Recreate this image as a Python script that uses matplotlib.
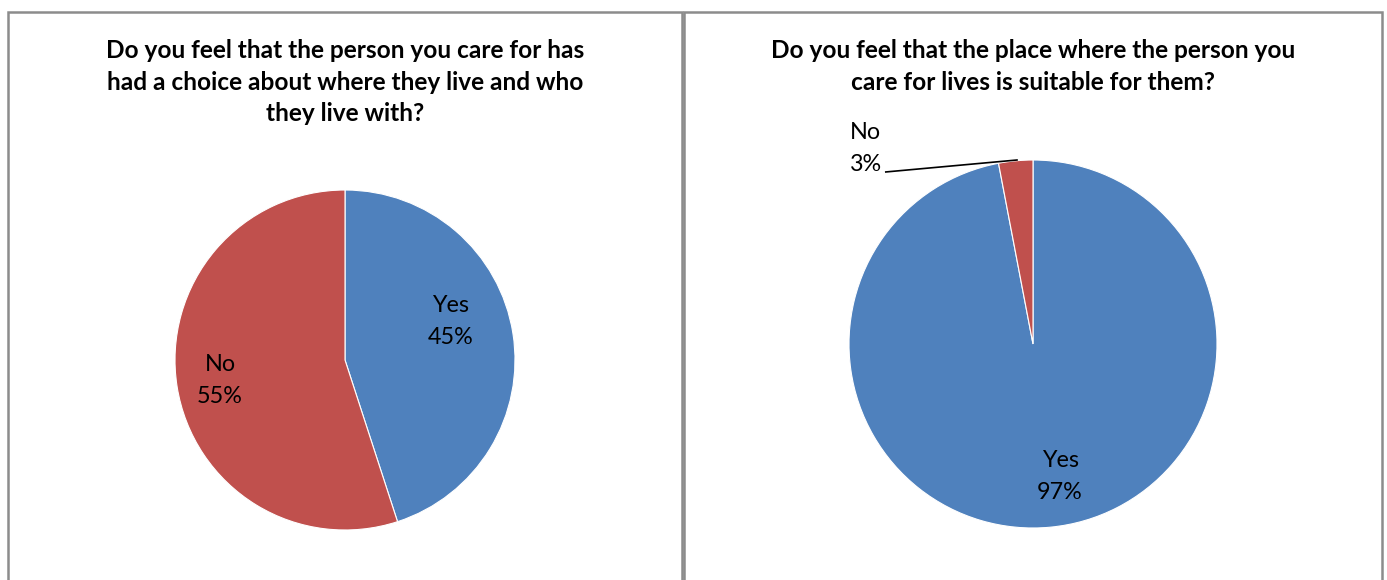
import matplotlib
matplotlib.use("Agg")
import matplotlib.pyplot as plt
from matplotlib.patches import Rectangle

# data
left_title = "Do you feel that the person you care for has\nhad a choice about where they live and who\nthey live with?"
right_title = "Do you feel that the place where the person you\ncare for lives is suitable for them?"
categories = ["Yes", "No"]
left_values = [45, 55]
right_values = [97, 3]
colors = ["#4F81BD", "#C0504D"]

W, H = 1387, 580
fig = plt.figure(figsize=(W / 100, H / 100), dpi=100)
fig.patch.set_facecolor("white")

FONT = ["Lato", "DejaVu Sans"]


def fbox(x0, y0, x1, y1):
    # pixel box (top-left origin) -> figure fraction rect
    return [x0 / W, 1 - y1 / H, (x1 - x0) / W, (y1 - y0) / H]


# panel borders
for x0, x1 in [(8, 682), (684, 1382)]:
    fig.patches.append(Rectangle((x0 / W, -0.05), (x1 - x0) / W, 1.05 - 12 / H,
                                 transform=fig.transFigure, fill=False,
                                 edgecolor="#8c8c8c", linewidth=1.8))


def draw_pie(box, values, labels_pos, title, title_y, cx):
    ax = fig.add_axes(fbox(*box))
    ax.pie(values, colors=colors, startangle=90, counterclock=False,
           radius=1, wedgeprops=dict(edgecolor="white", linewidth=0.8))
    ax.set_xlim(-1, 1)
    ax.set_ylim(-1, 1)
    ax.set_aspect("auto")
    ax.axis("off")
    for lab, val, (x, y) in zip(categories, values, labels_pos):
        ax.text(x, y, f"{lab}\n{val}%", ha="center", va="center",
                fontsize=16.8, family=FONT, linespacing=1.65, color="#000000")
    fig.text(cx / W, 1 - title_y / H, title, ha="center", va="top",
             fontsize=17.6, fontweight="bold", family=FONT, linespacing=1.45)
    return ax


draw_pie((175, 190, 515, 530), left_values,
         [(0.62, 0.228), (-0.735, -0.122)], left_title, 39, 345)

ax2 = draw_pie((849, 160, 1217, 528), right_values,
               [(0.147, -0.721), (-0.91, 1.065)], right_title, 39, 1033)
# leader line for the small slice
ax2.plot([-0.8, -0.087], [0.935, 1.0], color="black", linewidth=1.2,
         clip_on=False)

fig.savefig("out.png", dpi=100, facecolor="white")
